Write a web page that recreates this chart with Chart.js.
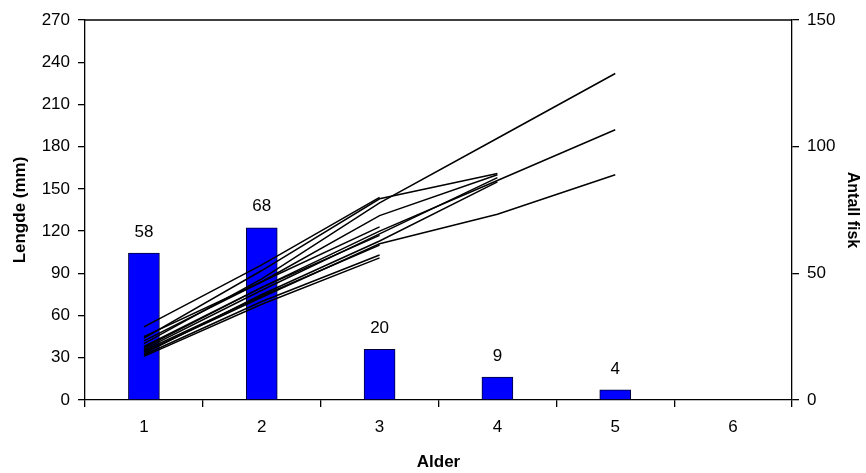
<!DOCTYPE html>
<html>
<head>
<meta charset="utf-8">
<script src="https://cdn.jsdelivr.net/npm/chart.js@4"></script>
<style>
  body { margin: 0; background: #fff; }
</style>
</head>
<body>
<canvas id="chart" width="866" height="473"></canvas>
<script>
const ages = ['1', '2', '3', '4', '5', '6'];
const antallFisk = [58, 68, 20, 9, 4, 0];

// tilbakeberegnet lengde (mm) for enkeltfisk, alder 1..n
const fisk01 = [40, 86, 140, 186, 232];
const fisk02 = [37, 80, 120, 156, 192];
const fisk03 = [34, 73, 111, 132, 160];
const fisk04 = [44, 92, 143, 161];
const fisk05 = [42, 84, 131, 160];
const fisk06 = [36, 78, 118, 158];
const fisk07 = [33, 75, 113, 155];
const fisk08 = [52, 96, 144];
const fisk09 = [45, 84, 123];
const fisk10 = [38, 80, 117];
const fisk11 = [32, 70, 103];
const fisk12 = [31, 68, 101];
const fisk13 = [35, 74, 110];

const lengdeTicks = [0, 30, 60, 90, 120, 150, 180, 210, 240, 270];
const antallTicks = [0, 50, 100, 150];

const fiskLinjer = [fisk01, fisk02, fisk03, fisk04, fisk05, fisk06, fisk07,
  fisk08, fisk09, fisk10, fisk11, fisk12, fisk13];

const FONT = 'Liberation Sans';
const tickFont = { family: FONT, size: 17 };

// verdier over søylene
const barLabels = {
  id: 'barLabels',
  afterDatasetsDraw(chart) {
    const meta = chart.getDatasetMeta(0);
    const c = chart.ctx;
    c.save();
    c.font = '17px "' + FONT + '"';
    c.fillStyle = '#000';
    c.textAlign = 'center';
    c.textBaseline = 'middle';
    meta.data.forEach((bar, i) => {
      if (!antallFisk[i]) return;
      c.fillText(String(antallFisk[i]), bar.x, bar.y - 21);
    });
    c.restore();
  }
};

// ramme rundt plottet (topplinje)
const frame = {
  id: 'frame',
  afterDraw(chart) {
    const a = chart.chartArea;
    const c = chart.ctx;
    c.save();
    c.strokeStyle = '#000';
    c.lineWidth = 1.3;
    c.beginPath();
    c.moveTo(a.left, a.top);
    c.lineTo(a.right, a.top);
    c.stroke();
    c.restore();
  }
};

const datasets = [{
  type: 'bar',
  label: 'Antall fisk',
  data: antallFisk,
  yAxisID: 'y1',
  backgroundColor: '#0000ff',
  borderColor: '#000033',
  borderWidth: 1,
  barThickness: 31,
  order: 2
}];

fiskLinjer.forEach((l, i) => {
  datasets.push({
    type: 'line',
    label: 'Fisk ' + (i + 1),
    data: l,
    yAxisID: 'y',
    borderColor: '#000',
    borderWidth: 1.5,
    pointRadius: 0,
    tension: 0,
    fill: false,
    order: 1
  });
});

new Chart(document.getElementById('chart').getContext('2d'), {
  type: 'bar',
  data: { labels: ages, datasets },
  options: {
    responsive: false,
    animation: false,
    layout: { padding: { top: 20, left: 0, right: 0, bottom: 0 } },
    plugins: { legend: { display: false }, tooltip: { enabled: false } },
    scales: {
      x: {
        offset: true,
        grid: { display: true, offset: true, drawOnChartArea: false, drawTicks: true, tickLength: 7, color: '#000', lineWidth: 1.3 },
        border: { display: true, color: '#000', width: 1.3 },
        ticks: { color: '#000', font: tickFont, padding: 10 },
        title: { display: true, text: 'Alder', color: '#000', font: { family: FONT, size: 17, weight: 'bold' }, padding: { top: 0, bottom: 0 } },
        afterFit(s) { s.height = 73; }
      },
      y: {
        position: 'left',
        min: 0,
        max: 270,
        afterBuildTicks(s) { s.ticks = lengdeTicks.map(v => ({ value: v })); },
        grid: { display: true, drawOnChartArea: false, drawTicks: true, tickLength: 7, color: '#000', lineWidth: 1.3 },
        border: { display: true, color: '#000', width: 1.3 },
        ticks: { color: '#000', font: tickFont, padding: 8 },
        title: { display: true, text: 'Lengde (mm)', color: '#000', font: { family: FONT, size: 17, weight: 'bold' }, padding: { top: 10, bottom: 0 } },
        afterFit(s) { s.width = 85; }
      },
      y1: {
        position: 'right',
        min: 0,
        max: 150,
        afterBuildTicks(s) { s.ticks = antallTicks.map(v => ({ value: v })); },
        grid: { display: true, drawOnChartArea: false, drawTicks: true, tickLength: 7, color: '#000', lineWidth: 1.3 },
        border: { display: true, color: '#000', width: 1.3 },
        ticks: { color: '#000', font: tickFont, padding: 8 },
        title: { display: true, text: 'Antall fisk', color: '#000', font: { family: FONT, size: 16, weight: 'bold' }, padding: { top: 4, bottom: 0 } },
        afterFit(s) { s.width = 74; }
      }
    }
  },
  plugins: [barLabels, frame]
});
</script>
</body>
</html>
